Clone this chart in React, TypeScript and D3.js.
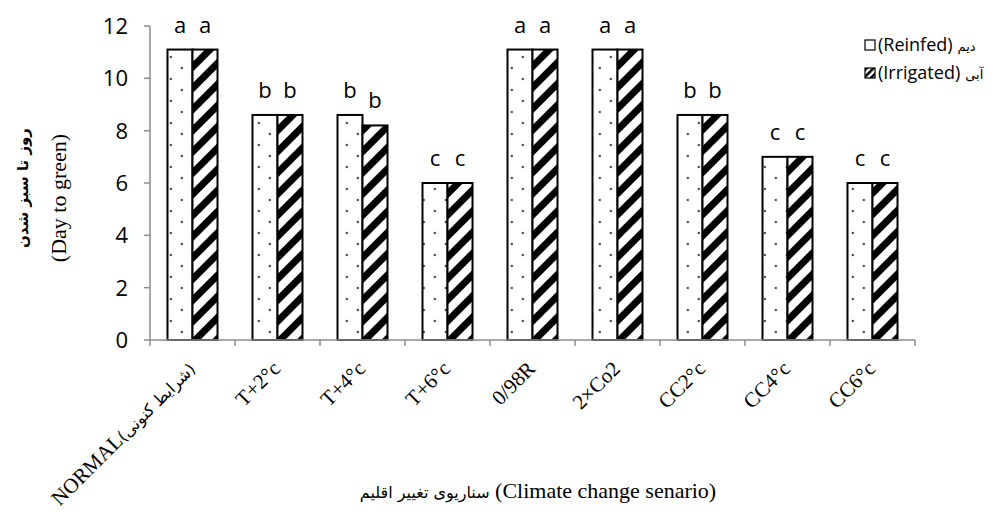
import React from 'react';
import * as d3 from 'd3';

// scenarios on the x axis (latin part, persian part)
const categories = ['NORMAL', 'T+2°c', 'T+4°c', 'T+6°c', '0/98R', '2×Co2', 'CC2°c', 'CC4°c', 'CC6°c'];
const categoryNotes = ['(شرایط کنونی)', '', '', '', '', '', '', '', ''];

const reinfed = [11.1, 8.6, 8.6, 6, 11.1, 11.1, 8.6, 7, 6];
const irrigated = [11.1, 8.6, 8.2, 6, 11.1, 11.1, 8.6, 7, 6];

const reinfedLetters = ['a', 'b', 'b', 'c', 'a', 'a', 'b', 'c', 'c'];
const irrigatedLetters = ['a', 'b', 'b', 'c', 'a', 'a', 'b', 'c', 'c'];

const yTicks = [0, 2, 4, 6, 8, 10, 12];
const seriesKeys = ['reinfed', 'irrigated'];

const W = 1007;
const H = 523;
const axisColor = '#8c8c8c';
const sans = '"Open Sans", Calibri, sans-serif';
const serif = '"Liberation Serif", "Times New Roman", serif';
const persian = '"DejaVu Sans", serif';

const App = () => {
  const x = d3.scaleBand().domain(categories).range([150, 915]).padding(0);
  const inner = d3
    .scaleBand()
    .domain(seriesKeys)
    .range([0, x.bandwidth()])
    .paddingInner(0)
    .paddingOuter(0.7);
  const y = d3.scaleLinear().domain([0, 12]).range([340, 26]);

  const series = [
    { key: 'reinfed', values: reinfed, letters: reinfedLetters, fill: 'url(#dots)' },
    { key: 'irrigated', values: irrigated, letters: irrigatedLetters, fill: 'url(#hatch)' },
  ];

  const tickXs = categories.map((c) => x(c)!).concat([x.range()[1]]);

  return (
    <svg
      width={W}
      height={H}
      style={{ position: 'absolute', left: 0, top: 0, background: '#fff' }}
    >
      <defs>
        <pattern id="dots" patternUnits="userSpaceOnUse" width={22} height={22} x={5.8} y={2}>
          <rect width={22} height={22} fill="#fff" />
          <circle cx={0} cy={0} r={1.2} fill="#444" />
          <circle cx={22} cy={0} r={1.2} fill="#444" />
          <circle cx={0} cy={22} r={1.2} fill="#444" />
          <circle cx={22} cy={22} r={1.2} fill="#444" />
          <circle cx={11} cy={11} r={1.2} fill="#444" />
        </pattern>
        <pattern
          id="hatch"
          patternUnits="userSpaceOnUse"
          width={15}
          height={15}
          patternTransform="rotate(45)"
        >
          <rect width={15} height={15} fill="#fff" />
          <rect width={7} height={15} fill="#000" />
        </pattern>
        <pattern
          id="hatchSmall"
          patternUnits="userSpaceOnUse"
          width={5}
          height={5}
          patternTransform="rotate(45)"
        >
          <rect width={5} height={5} fill="#fff" />
          <rect width={2.5} height={5} fill="#000" />
        </pattern>
      </defs>

      {/* bars */}
      {series.map((s) =>
        categories.map((c, i) => (
          <rect
            key={s.key + i}
            x={x(c)! + inner(s.key)!}
            y={y(s.values[i])}
            width={inner.bandwidth()}
            height={y(0) - y(s.values[i])}
            fill={s.fill}
            stroke="#000"
            strokeWidth={2}
          />
        ))
      )}

      {/* significance letters */}
      {series.map((s) =>
        categories.map((c, i) => (
          <text
            key={'l' + s.key + i}
            x={x(c)! + inner(s.key)! + inner.bandwidth() / 2}
            y={y(s.values[i]) - 17}
            textAnchor="middle"
            fontFamily={sans}
            fontSize={22}
            fill="#000"
          >
            {s.letters[i]}
          </text>
        ))
      )}

      {/* y axis */}
      <line x1={150} x2={150} y1={y(12)} y2={y(0)} stroke={axisColor} strokeWidth={1.5} />
      {yTicks.map((t) => (
        <g key={'yt' + t}>
          <line x1={144} x2={150} y1={y(t)} y2={y(t)} stroke={axisColor} strokeWidth={1.5} />
          <text
            x={128}
            y={y(t)}
            dy="0.36em"
            textAnchor="end"
            fontFamily={sans}
            fontSize={22}
            fill="#000"
          >
            {t}
          </text>
        </g>
      ))}

      {/* x axis */}
      <line x1={150} x2={915} y1={y(0)} y2={y(0)} stroke={axisColor} strokeWidth={1.5} />
      {tickXs.map((tx, i) => (
        <line
          key={'xt' + i}
          x1={tx}
          x2={tx}
          y1={y(0)}
          y2={y(0) + 6}
          stroke={axisColor}
          strokeWidth={1.5}
        />
      ))}
      {categories.map((c, i) => (
        <text
          key={'xl' + c}
          transform={`translate(${x(c)! + x.bandwidth() / 2 + 4},${y(0) + 30}) rotate(-45)`}
          textAnchor="end"
          direction="ltr"
          fontFamily={serif}
          fontSize={21}
          fill="#000"
        >
          {c}
          {categoryNotes[i] && (
            <tspan fontFamily={persian} fontSize={16}>
              {categoryNotes[i]}
            </tspan>
          )}
        </text>
      ))}

      {/* axis titles */}
      <text x={538} y={498} textAnchor="middle" direction="ltr" fill="#000">
        <tspan fontFamily={persian} fontSize={16}>سناریوی تغییر اقلیم</tspan>
        <tspan fontFamily={serif} fontSize={22}> (Climate change senario)</tspan>
      </text>
      <text
        transform="translate(28,188) rotate(-90)"
        textAnchor="middle"
        fontFamily={persian}
        fontWeight="bold"
        fontSize={15}
        fill="#000"
      >
        روز تا سبز شدن
      </text>
      <text
        transform="translate(66,198) rotate(-90)"
        textAnchor="middle"
        fontFamily={serif}
        fontSize={22}
        fill="#000"
      >
        (Day to green)
      </text>

      {/* legend */}
      {series.map((s, i) => (
        <g key={'lg' + s.key} transform={`translate(865,${40 + i * 28})`}>
          <rect
            width={10}
            height={10}
            fill={i === 0 ? '#fff' : 'url(#hatchSmall)'}
            stroke="#000"
            strokeWidth={1.2}
          />
          <text x={13} y={11} direction="ltr" fill="#000">
            <tspan fontFamily={sans} fontSize={18}>
              {i === 0 ? '(Reinfed)' : '(Irrigated)'}
            </tspan>
            <tspan fontFamily={persian} fontSize={13} dx={5}>
              {i === 0 ? 'دیم' : 'آبی'}
            </tspan>
          </text>
        </g>
      ))}
    </svg>
  );
};

export default App;
